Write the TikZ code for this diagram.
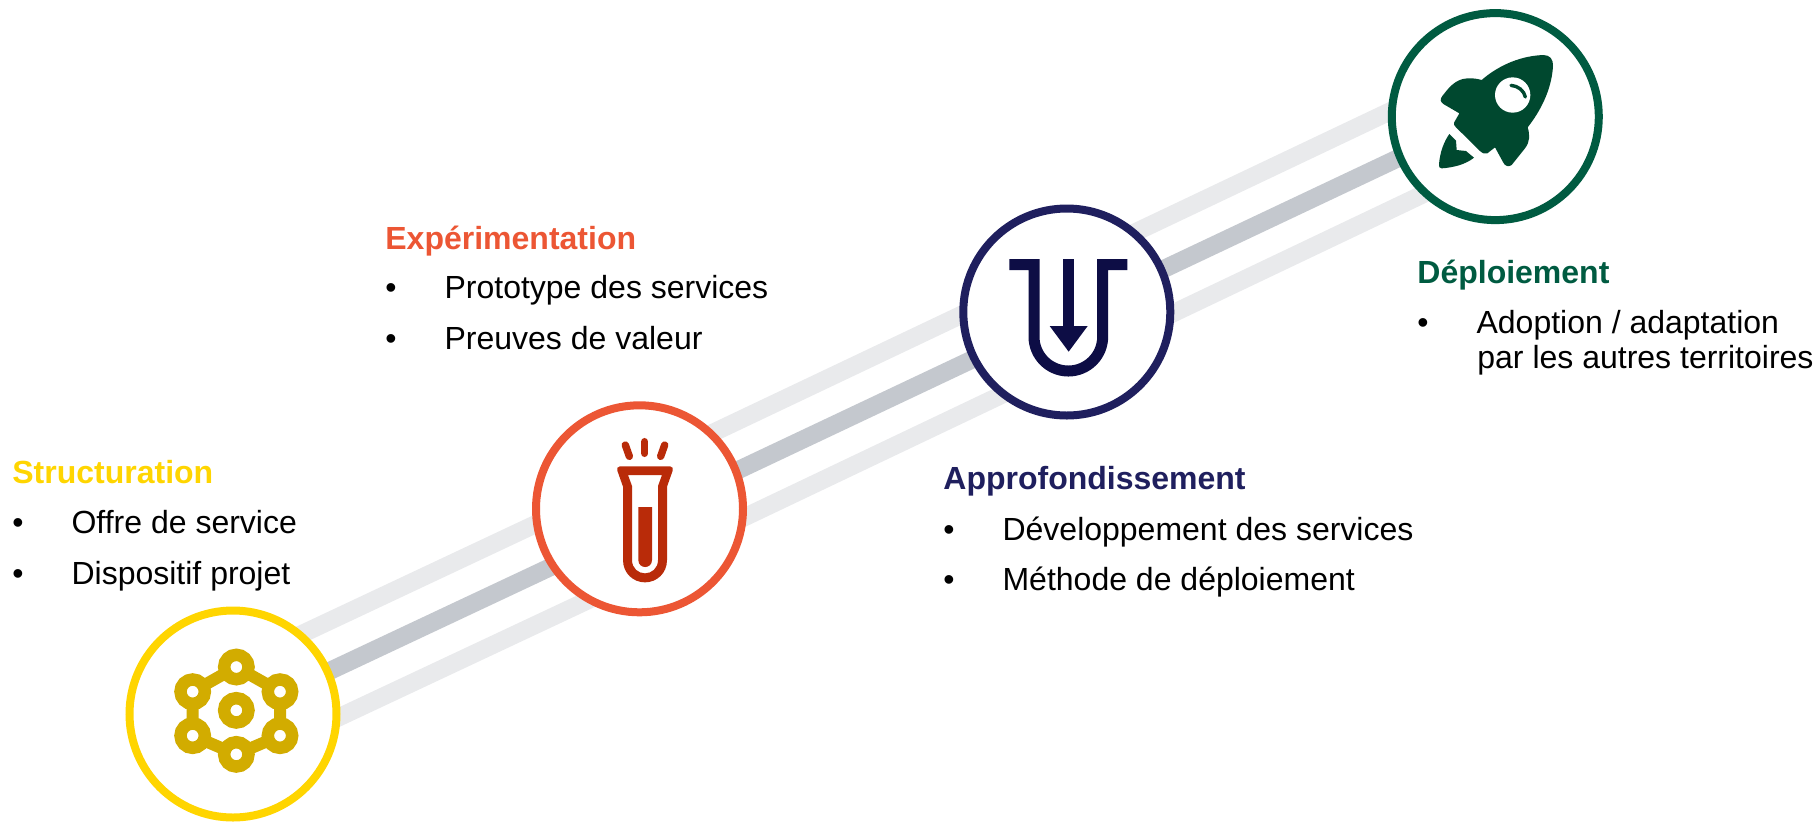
\documentclass[tikz,border=0pt]{standalone}
\usepackage{fontspec}
\setmainfont{Liberation Sans}
\usepackage{xcolor}
\usetikzlibrary{positioning, backgrounds}
\definecolor{cstruct}{HTML}{FFD500}
\definecolor{cexp}{HTML}{EC5634}
\definecolor{cappro}{HTML}{1F1F5E}
\definecolor{cdeploy}{HTML}{005B41}
\definecolor{istruct}{HTML}{D2AC00}
\definecolor{iexp}{HTML}{B92B09}
\definecolor{iappro}{HTML}{0D0D45}
\definecolor{ideploy}{HTML}{00482F}
\definecolor{bandlight}{HTML}{E9EAEC}
\definecolor{banddark}{HTML}{C4C8CE}
\pgfdeclarelayer{over}
\pgfsetlayers{background,main,over}

\begin{document}
\begin{tikzpicture}[x=0.5pt,y=-0.5pt,on grid]
    \tikzstyle{stage}=[shape=circle,line width=4pt,draw,fill=white,minimum size=103.5pt,inner sep=0pt]
    \tikzstyle{heading}=[anchor=base west,inner sep=0pt,font=\fontsize{16pt}{18pt}\selectfont\bfseries]
    \tikzstyle{item}=[anchor=base west,inner sep=0pt,font=\fontsize{16pt}{18pt}\selectfont,text=black]
    \tikzstyle{atom}=[shape=circle,line width=6.2pt,draw=istruct,fill=white,minimum size=12.2pt,inner sep=0pt]
    \tikzstyle{bond}=[line width=6pt,draw=istruct]
    \tikzstyle{band}=[line width=9pt]
    \tikzstyle{zoomed}=[x=0.16667pt,y=-0.16667pt]
    \newcommand{\bulleted}[1]{\makebox[29.6pt][l]{•}#1}

    \useasboundingbox (0,0) rectangle (1817,821);

    \node[stage, draw=cstruct] (S) at (233,714) {};
    \node[stage, draw=cexp, above right=102.6pt and 203.25pt of S] (E) {};
    \node[stage, draw=cappro, above right=98.4pt and 213.65pt of E] (A) {};
    \node[stage, draw=cdeploy, above right=97.7pt and 214.25pt of A] (D) {};

    \coordinate (S0) at (233,716.4);
    \coordinate (E0) at (640,525);
    \coordinate (S1) at (233,666.4);
    \coordinate (E1) at (640,475);
    \coordinate (S2) at (233,767);
    \coordinate (E2) at (640,575.8);
    \coordinate (F0) at (640,516.5);
    \coordinate (D0) at (1495,112.4);
    \coordinate (F1) at (640,467.4);
    \coordinate (D1) at (1495,61.5);
    \coordinate (F2) at (640,567);
    \coordinate (D2) at (1495,160);

    \begin{pgfonlayer}{background}
        \draw[band, bandlight] (S1) -- (E1);
        \draw[band, bandlight] (S2) -- (E2);
        \draw[band, banddark] (S0) -- (E0);
        \draw[band, bandlight] (F1) -- (D1);
        \draw[band, bandlight] (F2) -- (D2);
        \draw[band, banddark] (F0) -- (D0);
    \end{pgfonlayer}

    % structuration icon
    \begin{scope}[shift={(110,620)},zoomed]
        \begin{pgfonlayer}{over}
            \node[atom] (a1) at (379,141) {};
            \node[atom] (a2) at (510,215) {};
            \node[atom] (a3) at (510,347) {};
            \node[atom] (a4) at (379,403) {};
            \node[atom] (a5) at (248,347) {};
            \node[atom] (a6) at (248,215) {};
            \node[atom] (a7) at (379,271) {};
        \end{pgfonlayer}
        \path[bond]
        (a1.center) -- (a2.center)
        (a2.center) -- (a3.center)
        (a3.center) -- (a4.center)
        (a4.center) -- (a5.center)
        (a5.center) -- (a6.center)
        (a6.center) -- (a1.center);
    \end{scope}

    % tube icon
    \begin{scope}[shift={(520,390)},zoomed]
        \fill[iexp, even odd rule]
        (300,229) -- (450,229) .. controls (459,229) and (460,236) .. (458,242)
        -- (441,290) -- (441,510) .. controls (441,550) and (410,577) .. (375,577)
        .. controls (340,577) and (309,550) .. (309,510) -- (309,290) -- (292,242)
        .. controls (290,236) and (291,229) .. (300,229) -- cycle
        (324,255) -- (336,288) -- (336,510) .. controls (336,535) and (355,550) .. (375,550)
        .. controls (395,550) and (414,535) .. (414,510) -- (414,288) -- (426,255) -- cycle;
        \fill[iexp] (355,351) -- (396,351) -- (396,510) .. controls (396,538) and (355,538) .. (355,510) -- cycle;
        \draw[iexp, line width=3.7pt, line cap=round] (316,165) -- (328,199);
        \draw[iexp, line width=3.7pt, line cap=round] (374,155) -- (374,190);
        \draw[iexp, line width=3.7pt, line cap=round] (434,165) -- (422,199);
    \end{scope}

    % funnel icon
    \begin{scope}[shift={(950,195)},zoomed]
        \draw[iappro, line width=5.5pt]
        (178,209) -- (252,209) -- (252,425) .. controls (252,482) and (298,528) .. (355,528)
        .. controls (412,528) and (458,482) .. (458,425) -- (458,209) -- (532,209);
        \draw[iappro, line width=5.5pt] (356,192) -- (356,400);
        \fill[iappro] (299,393) -- (413,393) -- (356,470) -- cycle;
    \end{scope}

    % rocket icon
    \begin{scope}[shift={(1380,0)},zoomed]
        \fill[ideploy]
        (222,368) -- (238,340) -- (190,312) .. controls (180,305) and (180,297) .. (187,288)
        .. controls (205,265) and (225,237) .. (262,235) .. controls (280,234) and (295,237) .. (305,240)
        .. controls (345,205) and (410,168) .. (490,165) .. controls (510,165) and (520,178) .. (519,198)
        .. controls (515,270) and (480,335) .. (443,382) .. controls (450,405) and (450,425) .. (435,445)
        -- (395,495) .. controls (385,502) and (375,498) .. (370,488)
        -- (345,442) -- (322,460) .. controls (315,463) and (308,460) .. (300,453)
        -- (228,382) .. controls (222,376) and (220,372) .. (222,368) -- cycle;
        \fill[white] (398,285) circle[radius=53];
        \draw[ideploy, line width=1.7pt, line cap=round] (393,256) .. controls (415,258) and (432,272) .. (436,291);
        \fill[ideploy]
        (208,402) -- (228,422) -- (230,450) -- (258,453) -- (282,473)
        .. controls (255,495) and (215,503) .. (185,505) .. controls (178,505) and (176,500) .. (177,493)
        .. controls (180,455) and (192,425) .. (208,402) -- cycle;
    \end{scope}

    \node[heading, text=cstruct] (t1) at (12,483) {Structuration};
    \node[item] (t11) at (12,533) {\bulleted{Offre de service}};
    \node[item] (t12) at (12,584) {\bulleted{Dispositif projet}};

    \node[heading, text=cexp] (t2) at (385,249) {Expérimentation};
    \node[item] (t21) at (385,298) {\bulleted{Prototype des services}};
    \node[item] (t22) at (385,349) {\bulleted{Preuves de valeur}};

    \node[heading, text=cappro] (t3) at (943,489) {Approfondissement};
    \node[item] (t31) at (943,540) {\bulleted{Développement des services}};
    \node[item] (t32) at (943,590) {\bulleted{Méthode de déploiement}};

    \node[heading, text=cdeploy] (t4) at (1417,283) {Déploiement};
    \node[item] (t41) at (1417,333) {\bulleted{Adoption / adaptation}};
    \node[item] (t42) at (1477,368) {par les autres territoires};
\end{tikzpicture}
\end{document}
